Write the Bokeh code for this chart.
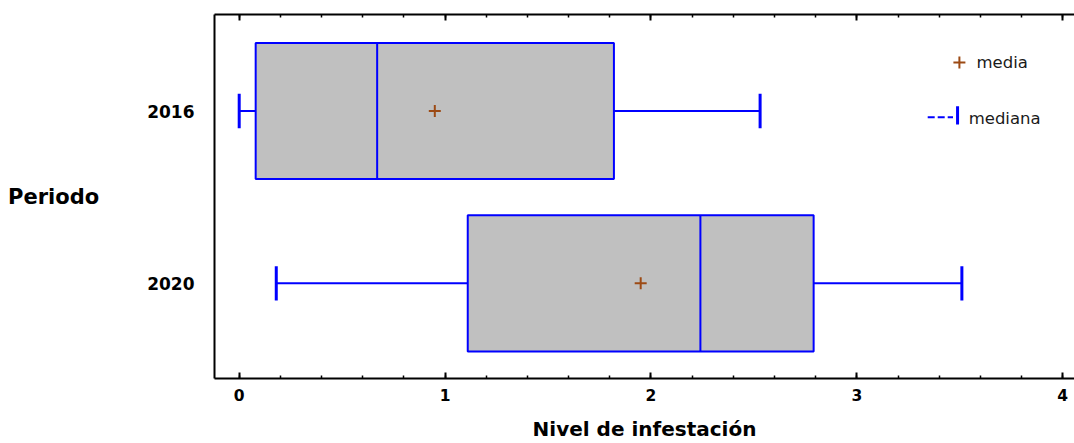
from bokeh.plotting import figure
from bokeh.models import (ColumnDataSource, Range1d, LinearAxis, FixedTicker,
                          Label, CustomJSTickFormatter)
from bokeh.embed import file_html
from bokeh.resources import INLINE

# Infestation level summary per period
periods = ["2016", "2020"]
minimum = [0.00, 0.18]
q1 = [0.08, 1.11]
median = [0.67, 2.24]
mean = [0.95, 1.95]
q3 = [1.82, 2.79]
maximum = [2.53, 3.51]

x_ticks = [0, 1, 2, 3, 4]

# vertical slot for each period (first period on top)
ypos = [float(len(periods) - 1 - i) for i in range(len(periods))]

BOX_H = 0.79
CAP_H = 0.20
BLUE = "#0000FF"
BROWN = "#9C4A14"
FONT = "DejaVu Sans"
INK = "black"

src = ColumnDataSource(dict(
    y=ypos, lo=minimum, q1=q1, med=median, mean=mean, q3=q3, hi=maximum,
    y_top=[v + BOX_H / 2 for v in ypos], y_bot=[v - BOX_H / 2 for v in ypos],
    cap_top=[v + CAP_H / 2 for v in ypos], cap_bot=[v - CAP_H / 2 for v in ypos],
))

p = figure(width=1074, height=443, output_backend="svg", toolbar_location=None,
           x_range=Range1d(-0.12, 4.057), y_range=Range1d(-0.552, 1.56),
           min_border_left=214, min_border_right=0, min_border_top=14,
           min_border_bottom=63)
p.outline_line_color = None
p.xgrid.visible = False
p.ygrid.visible = False
p.background_fill_color = "white"
p.border_fill_color = "white"

# whiskers
p.segment(x0="lo", y0="y", x1="q1", y1="y", source=src, line_color=BLUE, line_width=2)
p.segment(x0="q3", y0="y", x1="hi", y1="y", source=src, line_color=BLUE, line_width=2)
p.segment(x0="lo", y0="cap_bot", x1="lo", y1="cap_top", source=src, line_color=BLUE, line_width=3)
p.segment(x0="hi", y0="cap_bot", x1="hi", y1="cap_top", source=src, line_color=BLUE, line_width=3)

# boxes
p.quad(left="q1", right="q3", bottom="y_bot", top="y_top", source=src,
       fill_color="#C0C0C0", line_color=BLUE, line_width=2)
# median
p.segment(x0="med", y0="y_bot", x1="med", y1="y_top", source=src, line_color=BLUE, line_width=2)
# mean
p.scatter(x="mean", y="y", source=src, marker="cross", size=12,
          line_color=BROWN, line_width=2)

# key for mean / median
leg_src_mean = ColumnDataSource(dict(x=[3.498], y=[1.281]))
p.scatter(x="x", y="y", source=leg_src_mean, marker="cross", size=12,
          line_color=BROWN, line_width=2)
p.add_layout(Label(x=3.581, y=1.281, text="media", text_font=FONT,
                   text_font_size="16.5px", text_baseline="middle", text_color="#1a1a1a"))
p.segment(x0=[3.344], y0=[0.964], x1=[3.467], y1=[0.964], line_color=BLUE,
          line_width=2, line_dash="7 3")
p.segment(x0=[3.489], y0=[0.922], x1=[3.489], y1=[1.027], line_color=BLUE, line_width=3)
p.add_layout(Label(x=3.543, y=0.958, text="mediana", text_font=FONT,
                   text_font_size="16.5px", text_baseline="middle", text_color="#1a1a1a"))

minor = [t / 5 for t in range(0, 5 * x_ticks[-1] + 1)]

# bottom axis
xa = p.xaxis[0]
xa.ticker = FixedTicker(ticks=x_ticks, minor_ticks=minor)
xa.axis_line_width = 2
xa.axis_line_color = INK
xa.major_tick_in = 6
xa.major_tick_out = 0
xa.major_tick_line_width = 2
xa.major_tick_line_color = INK
xa.minor_tick_in = 3
xa.minor_tick_out = 0
xa.minor_tick_line_width = 1.5
xa.minor_tick_line_color = INK
xa.major_label_text_font = FONT
xa.major_label_text_font_style = "bold"
xa.major_label_text_font_size = "15.5px"
xa.major_label_text_color = INK
xa.major_label_standoff = 10
xa.axis_label = "Nivel de infestación"
xa.axis_label_text_font = FONT
xa.axis_label_text_font_style = "bold"
xa.axis_label_text_font_size = "20px"
xa.axis_label_text_color = INK
xa.axis_label_standoff = 13

# top axis carries ticks only
ta = LinearAxis(ticker=FixedTicker(ticks=x_ticks, minor_ticks=minor),
                formatter=CustomJSTickFormatter(code="return ''"))
ta.axis_line_width = 2
ta.axis_line_color = INK
ta.major_tick_in = 6
ta.major_tick_out = 0
ta.major_tick_line_width = 2
ta.major_tick_line_color = INK
ta.minor_tick_in = 3
ta.minor_tick_out = 0
ta.minor_tick_line_width = 1.5
ta.minor_tick_line_color = INK
ta.major_label_standoff = 0
p.add_layout(ta, "above")

# left axis with period names
ya = p.yaxis[0]
ya.ticker = FixedTicker(ticks=ypos)
ya.major_label_overrides = {v: name for v, name in zip(ypos, periods)}
ya.axis_line_width = 2
ya.axis_line_color = INK
ya.major_tick_line_color = None
ya.minor_tick_line_color = None
ya.major_tick_out = 0
ya.major_tick_in = 0
ya.major_label_text_font = FONT
ya.major_label_text_font_style = "bold"
ya.major_label_text_font_size = "17px"
ya.major_label_text_color = INK
ya.major_label_standoff = 20
ya.axis_label = "Periodo"
ya.axis_label_orientation = "horizontal"
ya.axis_label_text_font = FONT
ya.axis_label_text_font_style = "bold"
ya.axis_label_text_font_size = "21px"
ya.axis_label_text_color = INK
ya.axis_label_standoff = 45

open("out.html", "w").write(file_html(p, INLINE))
